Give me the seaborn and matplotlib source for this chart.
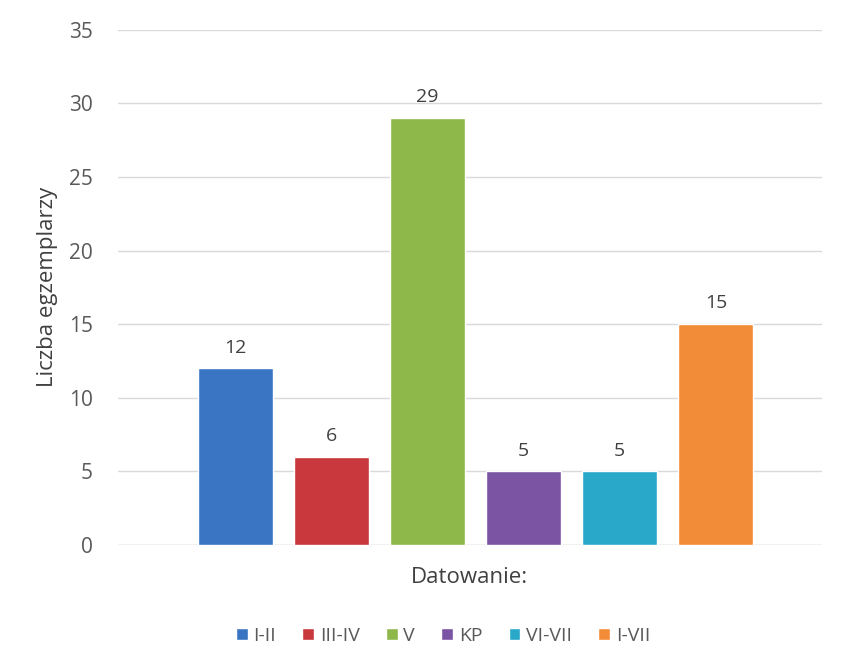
import pandas as pd
import numpy as np
from matplotlib import pyplot as plt
import seaborn as sns

# data
categories = ['I-II', 'III-IV', 'V', 'KP', 'VI-VII', 'I-VII']
counts = [12, 6, 29, 5, 5, 15]
colors = ['#3a75c4', '#c8383c', '#8fb84a', '#7b55a3', '#2aa8c9', '#f28c38']

df = pd.DataFrame({'Datowanie': categories, 'Liczba': counts})

sns.set_theme(style="white")
plt.rcParams['font.family'] = ['Open Sans', 'DejaVu Sans']
txt = '#595959'

fig = plt.figure(figsize=(8.48, 6.48), dpi=100)
ax = fig.add_axes([0.139, 0.159, 0.830, 0.795])

sns.barplot(data=df, x='Datowanie', y='Liczba', hue='Datowanie',
            palette=colors, dodge=False, width=0.78, legend=True, ax=ax,
            saturation=1)

# value labels above the bars
for i, v in enumerate(counts):
    ax.text(i, v + 0.8, str(v), ha='center', va='bottom', fontsize=14, color='#404040')

ax.set_ylim(0, 35)
ax.set_xlim(-1.22, 6.10)
ax.set_yticks(np.arange(0, 36, 5))
ax.yaxis.grid(True, color='#d9d9d9', linewidth=1)
ax.set_axisbelow(True)
for s in ax.spines.values():
    s.set_visible(False)
ax.axhline(0, color='#d9d9d9', linewidth=1, zorder=0)
ax.set_xticks([])
ax.tick_params(axis='y', labelsize=15, labelcolor=txt, length=0, pad=18)
ax.set_ylabel('Liczba egzemplarzy', fontsize=16, color='#404040', labelpad=8)
ax.set_xlabel('Datowanie:', fontsize=16, color='#404040', labelpad=16)

handles, labels = ax.get_legend_handles_labels()
ax.legend(handles, labels, loc='upper center', bbox_to_anchor=(0.462, -0.125),
          ncol=6, frameon=False, fontsize=14, handlelength=0.6, handleheight=0.6,
          handletextpad=0.3, columnspacing=1.35, labelcolor=txt)

plt.savefig('out.png', dpi=100)
